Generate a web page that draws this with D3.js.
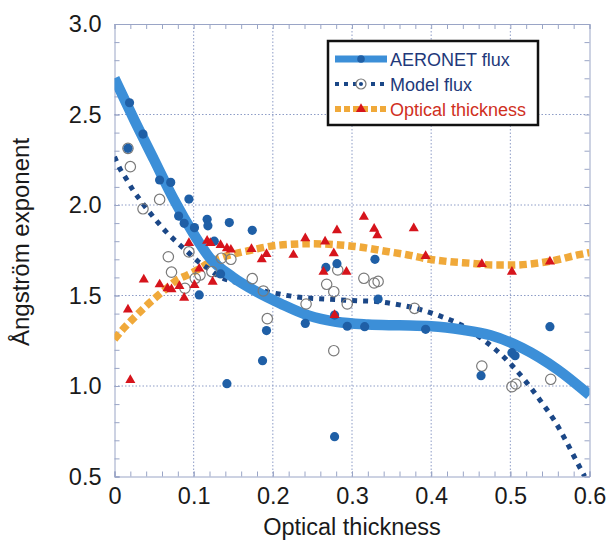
<!DOCTYPE html>
<html><head><meta charset="utf-8">
<script src="https://cdn.jsdelivr.net/npm/d3@7"></script>
<style>
body{margin:0;background:#fff}
svg{display:block}
text{font-family:"Liberation Sans",Arial,Helvetica,sans-serif}
</style>
</head><body>
<svg id="c" width="611" height="540"></svg>
<script>
// ---------- tick values / labels ----------
const xTickValues = [0, 0.1, 0.2, 0.3, 0.4, 0.5, 0.6];
const xTickLabels = ["0", "0.1", "0.2", "0.3", "0.4", "0.5", "0.6"];
const yTickValues = [0.5, 1.0, 1.5, 2.0, 2.5, 3.0];
const yTickLabels = ["0.5", "1.0", "1.5", "2.0", "2.5", "3.0"];
const xTitle = "Optical thickness";
const yTitle = "Ångström exponent";
const seriesNames = ["AERONET flux", "Model flux", "Optical thickness"];

// ---------- fitted curves ----------
const aeronetFitX = [0, 0.025, 0.05, 0.075, 0.1, 0.12, 0.15, 0.18, 0.21, 0.245, 0.28, 0.32, 0.36, 0.40, 0.44, 0.475, 0.515, 0.56, 0.6];
const aeronetFitY = [2.70, 2.47, 2.25, 2.03, 1.84, 1.71, 1.60, 1.52, 1.455, 1.39, 1.355, 1.34, 1.335, 1.33, 1.31, 1.28, 1.21, 1.09, 0.95];

const modelFitX = [0, 0.007, 0.015, 0.023, 0.032, 0.043, 0.053, 0.065, 0.078, 0.092, 0.105, 0.118, 0.133, 0.158, 0.175, 0.2, 0.234, 0.268, 0.306, 0.333, 0.36, 0.385, 0.411, 0.438, 0.465, 0.492, 0.517, 0.538, 0.556, 0.571, 0.585, 0.594];
const modelFitY = [2.267, 2.20, 2.144, 2.085, 2.03, 1.967, 1.913, 1.853, 1.797, 1.742, 1.69, 1.65, 1.604, 1.567, 1.54, 1.515, 1.49, 1.48, 1.471, 1.466, 1.448, 1.424, 1.387, 1.337, 1.258, 1.159, 1.039, 0.919, 0.807, 0.691, 0.573, 0.50];

const opticalFitX = [0, 0.012, 0.024, 0.037, 0.051, 0.066, 0.079, 0.092, 0.106, 0.118, 0.133, 0.158, 0.173, 0.198, 0.224, 0.25, 0.285, 0.306, 0.346, 0.371, 0.398, 0.423, 0.451, 0.479, 0.503, 0.533, 0.558, 0.585, 0.6];
const opticalFitY = [1.258, 1.32, 1.374, 1.43, 1.485, 1.54, 1.586, 1.613, 1.645, 1.678, 1.706, 1.737, 1.751, 1.773, 1.783, 1.786, 1.779, 1.77, 1.742, 1.724, 1.70, 1.687, 1.678, 1.668, 1.668, 1.678, 1.696, 1.724, 1.737];

// ---------- scatter points ----------
const aeronetX = [0.019, 0.036, 0.017, 0.057, 0.071, 0.094, 0.081, 0.088, 0.101, 0.117, 0.118, 0.145, 0.174, 0.126, 0.134, 0.107, 0.142, 0.187, 0.192, 0.241, 0.267, 0.281, 0.278, 0.278, 0.294, 0.316, 0.329, 0.333, 0.393, 0.463, 0.502, 0.506, 0.550];
const aeronetY = [2.565, 2.392, 2.313, 2.138, 2.125, 2.033, 1.939, 1.899, 1.875, 1.921, 1.885, 1.903, 1.860, 1.800, 1.619, 1.503, 1.013, 1.14, 1.306, 1.346, 1.655, 1.676, 1.392, 0.72, 1.33, 1.328, 1.70, 1.48, 1.313, 1.057, 1.184, 1.167, 1.328];

const modelX = [0.020, 0.017, 0.057, 0.036, 0.068, 0.072, 0.089, 0.094, 0.102, 0.108, 0.135, 0.147, 0.123, 0.174, 0.188, 0.193, 0.242, 0.268, 0.277, 0.282, 0.294, 0.277, 0.315, 0.328, 0.333, 0.379, 0.464, 0.502, 0.507, 0.551];
const modelY = [2.212, 2.313, 2.031, 1.979, 1.714, 1.629, 1.540, 1.741, 1.595, 1.613, 1.706, 1.700, 1.632, 1.593, 1.525, 1.372, 1.453, 1.562, 1.521, 1.641, 1.453, 1.195, 1.595, 1.569, 1.578, 1.429, 1.11, 0.996, 1.011, 1.037];

const opticalX = [0.020, 0.017, 0.037, 0.057, 0.067, 0.072, 0.082, 0.088, 0.094, 0.101, 0.107, 0.117, 0.121, 0.124, 0.134, 0.142, 0.147, 0.173, 0.186, 0.192, 0.226, 0.241, 0.264, 0.266, 0.277, 0.281, 0.293, 0.278, 0.315, 0.328, 0.332, 0.378, 0.393, 0.464, 0.502, 0.550];
const opticalY = [1.033, 1.422, 1.588, 1.561, 1.540, 1.534, 1.552, 1.487, 1.789, 1.558, 1.648, 1.802, 1.790, 1.576, 1.779, 1.760, 1.753, 1.757, 1.700, 1.729, 1.724, 1.816, 1.631, 1.798, 1.733, 1.860, 1.631, 1.392, 1.935, 1.868, 1.832, 1.871, 1.718, 1.674, 1.631, 1.687];

// ---------- drawing ----------
const svg = d3.select("#c");
const L = 114.5, R = 589.5, T = 24, B = 476.5;
const x = d3.scaleLinear().domain([0, 0.6]).range([L, R]);
const y = d3.scaleLinear().domain([0.5, 3.0]).range([B, T]);

const frameColor = "#9aa5c6";
const gridColor = "#8d9cc6";
const cBand = "#3c8fd8";
const cDot = "#1f5fa6";
const cModel = "#1b4787";
const cOrange = "#f0a93a";
const cRed = "#d6141c";
const cOpen = "#7a7a7a";
const cText = "#1a1a1a";

svg.append("defs").append("clipPath").attr("id", "clip")
  .append("rect").attr("x", L).attr("y", T).attr("width", R - L).attr("height", B - T);

// grid
const grid = svg.append("g");
xTickValues.slice(1, -1).forEach(v => {
  grid.append("line").attr("x1", x(v)).attr("x2", x(v)).attr("y1", T).attr("y2", B)
    .attr("stroke", gridColor).attr("stroke-width", 1).attr("stroke-dasharray", "1.5,2");
});
yTickValues.slice(1, -1).forEach(v => {
  grid.append("line").attr("x1", L).attr("x2", R).attr("y1", y(v)).attr("y2", y(v))
    .attr("stroke", gridColor).attr("stroke-width", 1).attr("stroke-dasharray", "1.5,2");
});

// minor ticks on all sides
const xMinor = d3.range(0, 0.6001, 0.02);
const yMinor = d3.range(0.5, 3.0001, 0.1);
function styleAxis(g) {
  g.selectAll("path").attr("stroke", frameColor);
  g.selectAll("line").attr("stroke", frameColor);
}
svg.append("g").attr("transform", `translate(0,${B})`)
  .call(d3.axisBottom(x).tickValues(xMinor).tickSize(-5).tickFormat(""))
  .call(styleAxis);
svg.append("g").attr("transform", `translate(0,${T})`)
  .call(d3.axisTop(x).tickValues(xMinor).tickSize(-5).tickFormat(""))
  .call(styleAxis);
svg.append("g").attr("transform", `translate(${L},0)`)
  .call(d3.axisLeft(y).tickValues(yMinor).tickSize(-5).tickFormat(""))
  .call(styleAxis);
svg.append("g").attr("transform", `translate(${R},0)`)
  .call(d3.axisRight(y).tickValues(yMinor).tickSize(-5).tickFormat(""))
  .call(styleAxis);

// labeled axes
const xAxis = svg.append("g").attr("transform", `translate(0,${B})`)
  .call(d3.axisBottom(x).tickValues(xTickValues).tickSize(-5).tickPadding(11)
    .tickFormat((d, i) => xTickLabels[i]));
xAxis.select(".domain").remove();
xAxis.selectAll("line").attr("stroke", frameColor);
xAxis.selectAll("text").attr("font-size", 23.5).attr("fill", cText)
  .attr("font-family", "'Liberation Sans', Arial, sans-serif");

const yAxis = svg.append("g").attr("transform", `translate(${L},0)`)
  .call(d3.axisLeft(y).tickValues(yTickValues).tickSize(-5).tickPadding(13)
    .tickFormat((d, i) => yTickLabels[i]));
yAxis.select(".domain").remove();
yAxis.selectAll("line").attr("stroke", frameColor);
yAxis.selectAll("text").attr("font-size", 23.5).attr("fill", cText)
  .attr("font-family", "'Liberation Sans', Arial, sans-serif");

// titles
svg.append("text").attr("x", (L + R) / 2).attr("y", 535).attr("text-anchor", "middle")
  .attr("font-size", 23.5).attr("fill", cText).text(xTitle);
svg.append("text").attr("transform", `translate(29,242) rotate(-90)`).attr("text-anchor", "middle")
  .attr("font-size", 24).attr("fill", cText).text(yTitle);

// curves
const plot = svg.append("g").attr("clip-path", "url(#clip)");
const line = d3.line().x(d => x(d[0])).y(d => y(d[1])).curve(d3.curveMonotoneX);

plot.append("path").datum(d3.zip(opticalFitX, opticalFitY)).attr("d", line)
  .attr("fill", "none").attr("stroke", cOrange).attr("stroke-width", 7.5).attr("stroke-dasharray", "7.5,4");
plot.append("path").datum(d3.zip(modelFitX, modelFitY)).attr("d", line)
  .attr("fill", "none").attr("stroke", cModel).attr("stroke-width", 5).attr("stroke-dasharray", "5,6");
plot.append("path").datum(d3.zip(aeronetFitX, aeronetFitY)).attr("d", line)
  .attr("fill", "none").attr("stroke", cBand).attr("stroke-width", 10.5);

// markers
const pts = svg.append("g");
pts.selectAll("circle.m").data(d3.zip(modelX, modelY)).join("circle")
  .attr("class", "m").attr("cx", d => x(d[0])).attr("cy", d => y(d[1])).attr("r", 5.2)
  .attr("fill", "none").attr("stroke", cOpen).attr("stroke-width", 1.2);
pts.selectAll("circle.a").data(d3.zip(aeronetX, aeronetY)).join("circle")
  .attr("class", "a").attr("cx", d => x(d[0])).attr("cy", d => y(d[1])).attr("r", 4.6)
  .attr("fill", cDot);
const tri = d3.symbol().type(d3.symbolTriangle).size(44);
pts.selectAll("path.t").data(d3.zip(opticalX, opticalY)).join("path")
  .attr("class", "t").attr("transform", d => `translate(${x(d[0])},${y(d[1])})`)
  .attr("d", tri).attr("fill", cRed);

// legend
const lg = svg.append("g");
lg.append("rect").attr("x", 328).attr("y", 41).attr("width", 210).attr("height", 84)
  .attr("fill", "#fff").attr("stroke", "#111").attr("stroke-width", 2.5);
const lx1 = 335, lx2 = 387, lxm = 361;
const rows = [59, 84, 109];
lg.append("line").attr("x1", lx1).attr("x2", lx2).attr("y1", rows[0]).attr("y2", rows[0])
  .attr("stroke", cBand).attr("stroke-width", 7);
lg.append("circle").attr("cx", lxm).attr("cy", rows[0]).attr("r", 3.8).attr("fill", cDot);
lg.append("line").attr("x1", lx1).attr("x2", lx2).attr("y1", rows[1]).attr("y2", rows[1])
  .attr("stroke", cModel).attr("stroke-width", 4).attr("stroke-dasharray", "4,5");
lg.append("circle").attr("cx", lxm).attr("cy", rows[1]).attr("r", 5).attr("fill", "#fff")
  .attr("stroke", cOpen).attr("stroke-width", 1.2);
lg.append("circle").attr("cx", lxm).attr("cy", rows[1]).attr("r", 2).attr("fill", cModel);
lg.append("line").attr("x1", lx1).attr("x2", lx2).attr("y1", rows[2]).attr("y2", rows[2])
  .attr("stroke", cOrange).attr("stroke-width", 6).attr("stroke-dasharray", "6,3");
lg.append("path").attr("transform", `translate(${lxm},${rows[2]})`).attr("d", tri).attr("fill", cRed);
const lcol = ["#22397a", "#22397a", "#d0301e"];
seriesNames.forEach((s, i) => {
  lg.append("text").attr("x", 390).attr("y", rows[i] + 6.5).attr("font-size", 18)
    .attr("fill", lcol[i]).text(s);
});
</script>
</body></html>
